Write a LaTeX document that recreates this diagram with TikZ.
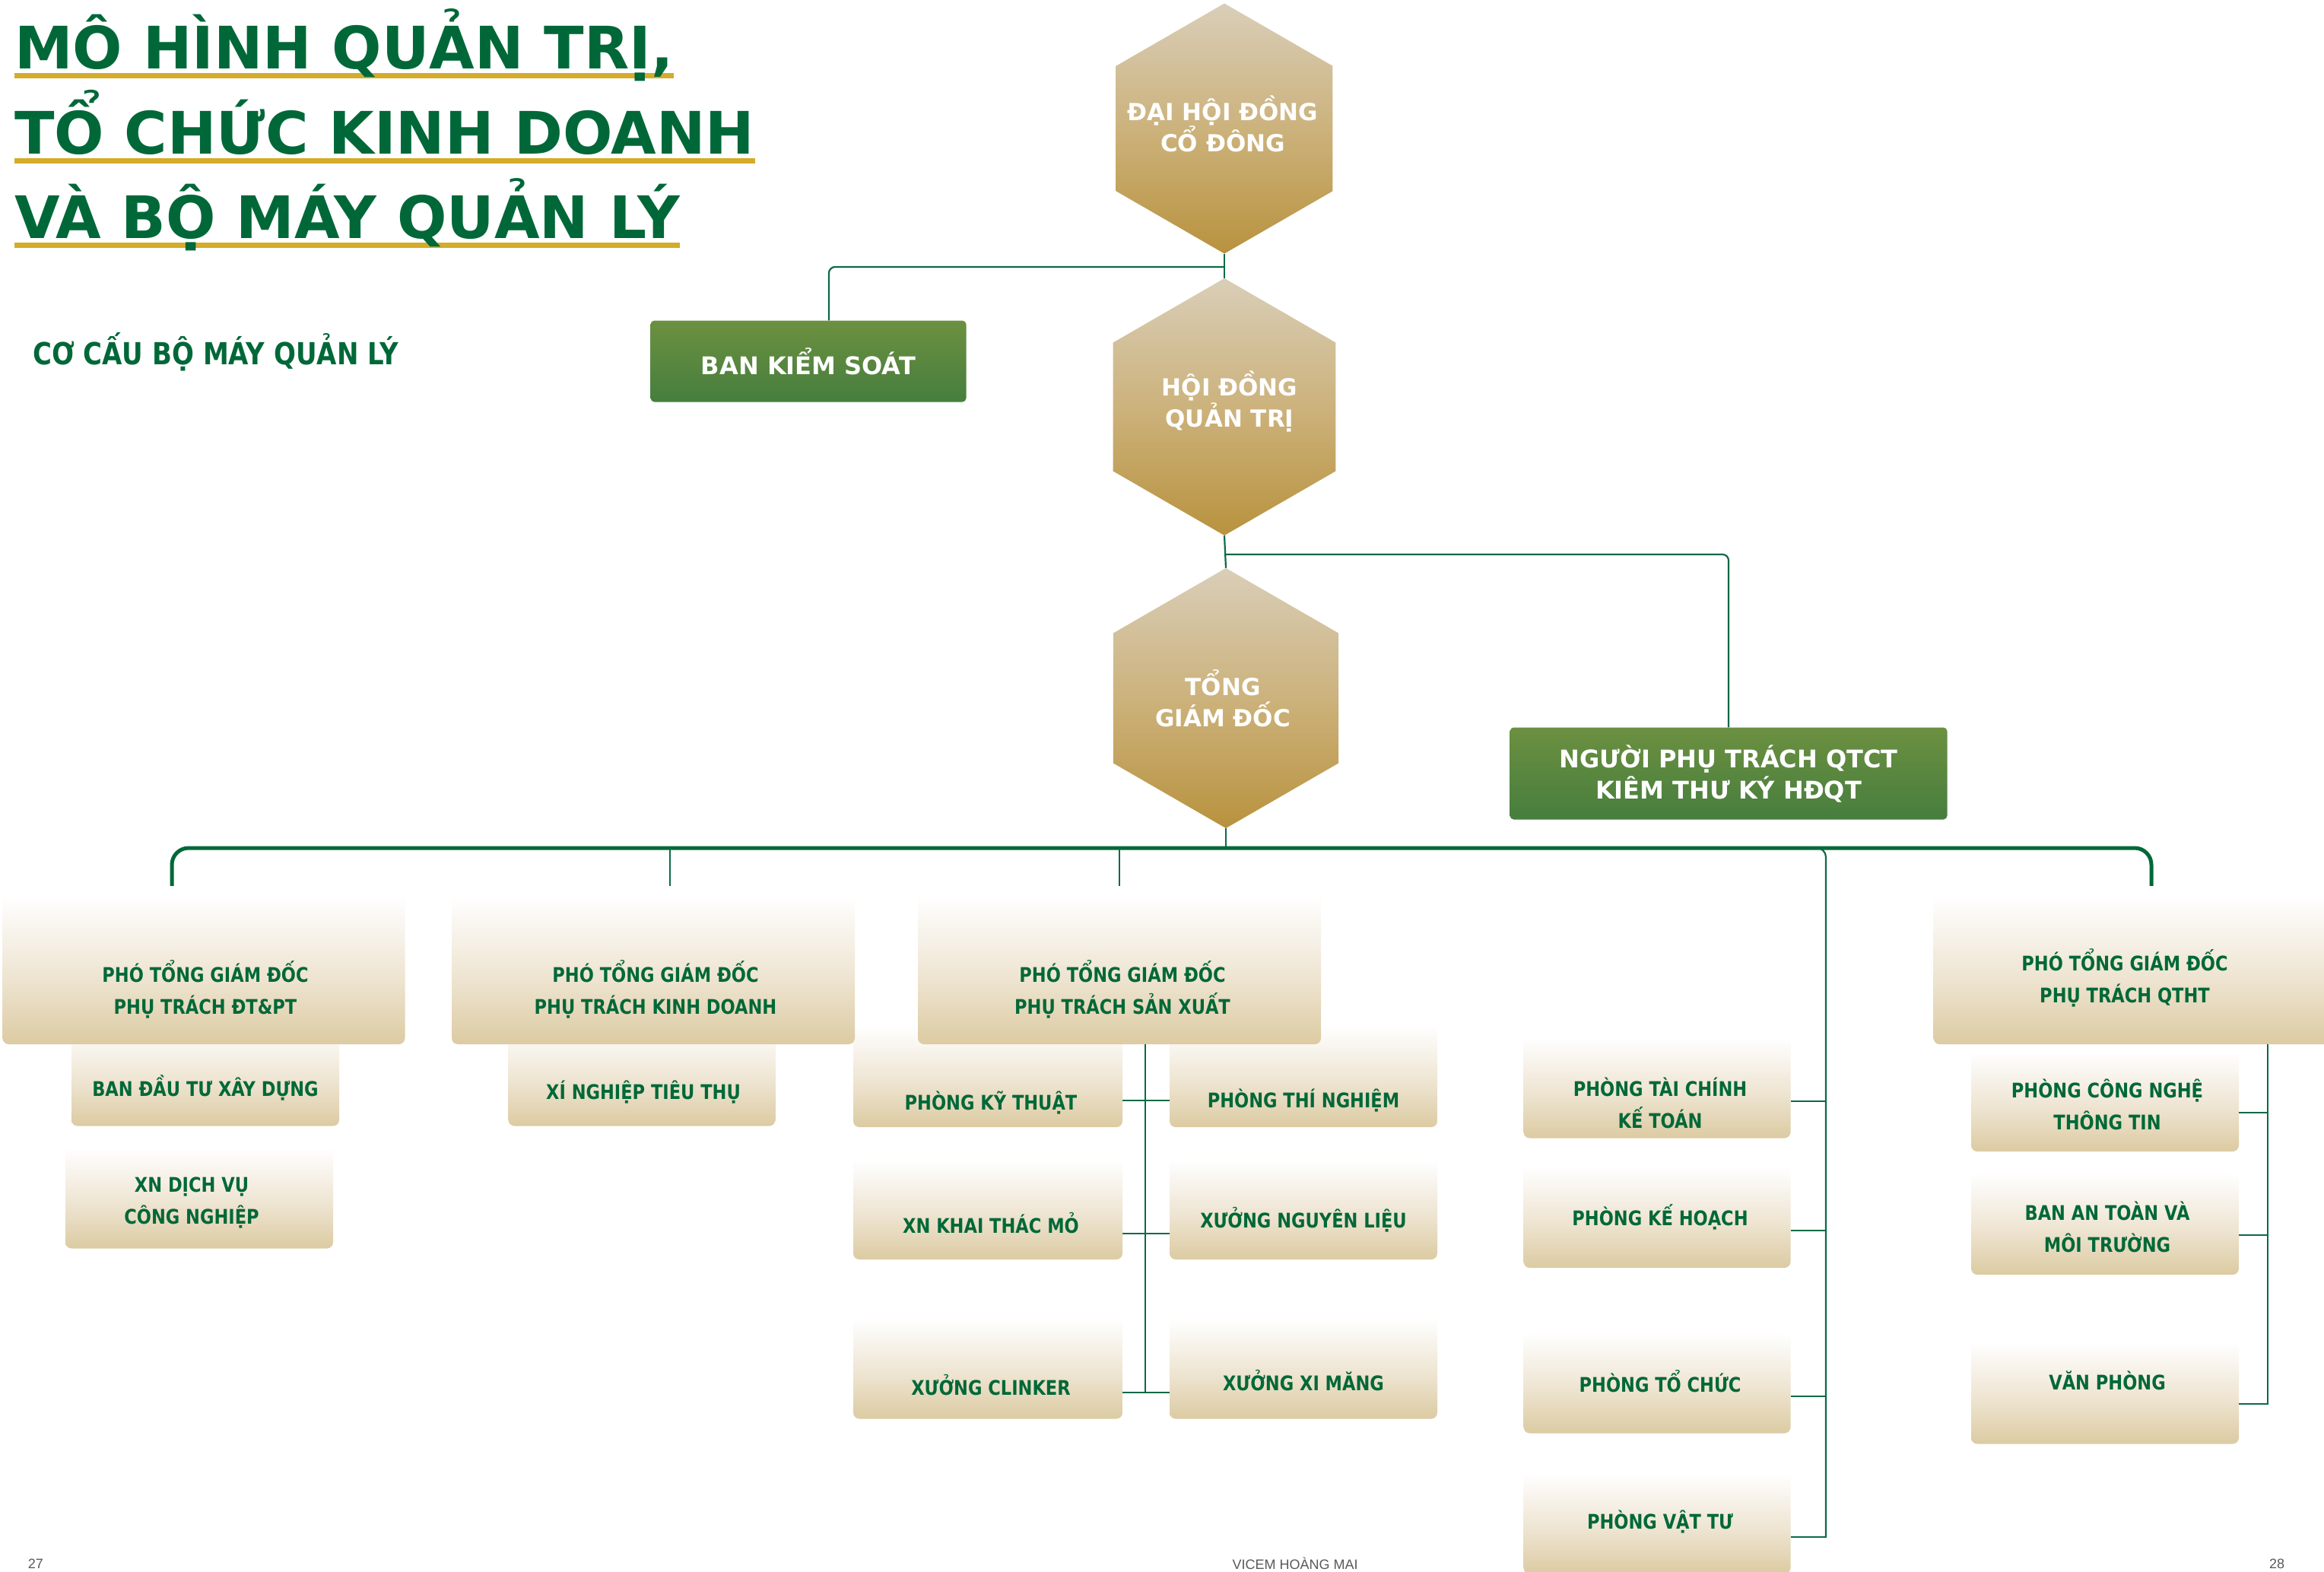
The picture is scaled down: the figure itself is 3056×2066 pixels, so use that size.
\documentclass[tikz,border=0pt]{standalone}
\usepackage{fontspec}
\usepackage{xcolor}
\usepackage{tikz}
\usetikzlibrary{shapes.geometric}
\setmainfont{DejaVu Sans}
\newfontfamily\narrowfont[FakeStretch=0.85]{DejaVu Sans}
\newfontfamily\footfont{Liberation Sans}

\definecolor{vgreen}{RGB}{0,104,56}
\definecolor{gold}{RGB}{212,172,42}
\definecolor{wire}{RGB}{12,106,70}
\definecolor{hextop}{RGB}{217,206,184}
\definecolor{hexmid}{RGB}{204,178,124}
\definecolor{hexbot}{RGB}{184,146,62}
\definecolor{boxtop}{RGB}{108,144,64}
\definecolor{boxbot}{RGB}{70,126,62}
\definecolor{creamlow}{RGB}{220,203,162}
\definecolor{creammid}{RGB}{237,227,207}
\definecolor{creamhi}{RGB}{250,247,242}
\pgfdeclareverticalshading{cream}{100bp}{color(0bp)=(creamlow); color(25bp)=(creamlow); color(45bp)=(creammid); color(64bp)=(creamhi); color(72bp)=(white); color(100bp)=(white)}
\pgfdeclarelayer{bg}
\pgfsetlayers{bg,main}

\begin{document}
\begin{tikzpicture}[x=1pt, y=-1pt,
  hexa/.style = {regular polygon, regular polygon sides=6, shape border rotate=30, inner sep=0pt,
    top color=hextop, bottom color=hexbot, middle color=hexmid},
  hextext/.style = {text=white, align=center, inner sep=0pt, font=\bfseries\fontsize{31}{41}\selectfont},
  gbox/.style = {rectangle, rounded corners=5, top color=boxtop, bottom color=boxbot, text=white,
    align=center, font=\bfseries\fontsize{32}{41}\selectfont},
  cbox/.style = {rectangle, rounded corners=8, shading=cream, inner sep=0pt},
  ctext/.style = {text=vgreen, align=center, inner sep=0pt, font=\narrowfont\bfseries\fontsize{26.5}{42}\selectfont},
  conn/.style = {draw=wire, line width=2.2pt},
  bus/.style = {draw=vgreen, line width=5pt},
  title/.style = {anchor=base west, inner sep=0pt, text=vgreen, font=\bfseries\fontsize{77}{90}\selectfont},
  foot/.style = {text=black!65, inner sep=0pt, font=\footfont\fontsize{18}{20}\selectfont}]

\useasboundingbox (0,0) rectangle (3056,2066);

% title
\node[title] (t1) at (19,90) {MÔ HÌNH QUẢN TRỊ,};
\node[title] (t2) at (19,202) {TỔ CHỨC KINH DOANH};
\node[title] (t3) at (19,313) {VÀ BỘ MÁY QUẢN LÝ};
\begin{pgfonlayer}{bg}
  \fill[white] (0,0) rectangle (3056,2066);
  \foreach \t in {t1,t2,t3}
    \fill[gold] ([yshift=-6]\t.base west) rectangle ([yshift=-13]\t.base east);
\end{pgfonlayer}
\node[anchor=base west, inner sep=0pt, text=vgreen, font=\narrowfont\bfseries\fontsize{40}{48}\selectfont] (cocau) at (43,479) {CƠ CẤU BỘ MÁY QUẢN LÝ};

% top of the chart
\node[hexa, minimum size=329] (dhcd) at (1610,169) {};
\node[hexa, minimum size=338] (hdqt) at (1610,535) {};
\node[hexa, minimum size=342] (tgd) at (1612,918) {};
\node[hextext] (dhcdl) at (1608,163) {ĐẠI HỘI ĐỒNG\\CỔ ĐÔNG};
\node[hextext] (hdqtl) at (1617,528) {HỘI ĐỒNG\\QUẢN TRỊ};
\node[hextext] (tgdl) at (1608,918) {TỔNG\\GIÁM ĐỐC};
\node[gbox, minimum width=415, minimum height=107] (bks) at (1063,475) {BAN KIỂM SOÁT};
\node[gbox, minimum width=575, minimum height=121] (npt) at (2273,1017) {NGƯỜI PHỤ TRÁCH QTCT\\KIÊM THƯ KÝ HĐQT};

% units
\node[cbox, minimum width=352, minimum height=141] (bdtxd) at (270,1410) {};
\node[cbox, minimum width=351, minimum height=141] (xntt) at (844,1410) {};
\node[cbox, minimum width=352, minimum height=141] (xndv) at (262,1571) {};
\node[cbox, minimum width=354, minimum height=142] (pkt) at (1299,1411) {};
\node[cbox, minimum width=352, minimum height=142] (ptn) at (1714,1411) {};
\node[cbox, minimum width=354, minimum height=140] (ktm) at (1299,1586) {};
\node[cbox, minimum width=352, minimum height=140] (nl) at (1714,1586) {};
\node[cbox, minimum width=354, minimum height=141] (clk) at (1299,1795) {};
\node[cbox, minimum width=352, minimum height=141] (xm) at (1714,1795) {};
\node[cbox, minimum width=351, minimum height=141] (tckt) at (2179,1426) {};
\node[cbox, minimum width=351, minimum height=142] (kh) at (2179,1596) {};
\node[cbox, minimum width=351, minimum height=141] (tc) at (2179,1814) {};
\node[cbox, minimum width=351, minimum height=141] (vt) at (2179,1999) {};
\node[cbox, minimum width=352, minimum height=140] (cntt) at (2768,1444) {};
\node[cbox, minimum width=352, minimum height=142] (batmt) at (2768,1605) {};
\node[cbox, minimum width=352, minimum height=143] (vp) at (2768,1827) {};

\node[cbox, minimum width=529, minimum height=208] (ptdt) at (268,1269) {};
\node[cbox, minimum width=530, minimum height=208] (ptkd) at (859,1269) {};
\node[cbox, minimum width=530, minimum height=208] (ptsx) at (1472,1269) {};
\node[cbox, minimum width=529, minimum height=208] (ptqt) at (2807,1269) {};

\node[ctext] (ptdtl) at (270,1301) {PHÓ TỔNG GIÁM ĐỐC\\PHỤ TRÁCH ĐT\&PT};
\node[ctext] (ptkdl) at (862,1301) {PHÓ TỔNG GIÁM ĐỐC\\PHỤ TRÁCH KINH DOANH};
\node[ctext] (ptsxl) at (1476,1301) {PHÓ TỔNG GIÁM ĐỐC\\PHỤ TRÁCH SẢN XUẤT};
\node[ctext] (ptqtl) at (2794,1286) {PHÓ TỔNG GIÁM ĐỐC\\PHỤ TRÁCH QTHT};
\node[ctext] (bdtxdl) at (270,1430) {BAN ĐẦU TƯ XÂY DỰNG};
\node[ctext] (xnttl) at (846,1436) {XÍ NGHIỆP TIÊU THỤ};
\node[ctext] (xndvl) at (252,1581) {XN DỊCH VỤ\\CÔNG NGHIỆP};
\node[ctext] (pktl) at (1303,1450) {PHÒNG KỸ THUẬT};
\node[ctext] (ptnl) at (1714,1447) {PHÒNG THÍ NGHIỆM};
\node[ctext] (ktml) at (1303,1608) {XN KHAI THÁC MỎ};
\node[ctext] (nll) at (1714,1604) {XƯỞNG NGUYÊN LIỆU};
\node[ctext] (clkl) at (1303,1821) {XƯỞNG CLINKER};
\node[ctext] (xml) at (1714,1815) {XƯỞNG XI MĂNG};
\node[ctext] (tcktl) at (2183,1450) {PHÒNG TÀI CHÍNH\\KẾ TOÁN};
\node[ctext] (khl) at (2183,1600) {PHÒNG KẾ HOẠCH};
\node[ctext] (tcl) at (2183,1816) {PHÒNG TỔ CHỨC};
\node[ctext] (vtl) at (2183,2001) {PHÒNG VẬT TƯ};
\node[ctext] (cnttl) at (2771,1452) {PHÒNG CÔNG NGHỆ\\THÔNG TIN};
\node[ctext] (batmtl) at (2771,1613) {BAN AN TOÀN VÀ\\MÔI TRƯỜNG};
\node[ctext] (vpl) at (2771,1815) {VĂN PHÒNG};

% connectors
\draw[conn] (dhcd.south) -- (hdqt.north);
\draw[conn, rounded corners=8] (dhcd.south |- 0,351) -| ([xshift=27]bks.north);
\draw[conn] (hdqt.south) -- (tgd.north);
\draw[conn, rounded corners=8] (hdqt.south |- 0,729) -| (npt.north);
\coordinate (bus) at (1612,1115);
\draw[conn] (tgd.south) -- (bus);
\draw[bus, rounded corners=22] ([xshift=-42]ptdt.north) |- (bus) -| ([xshift=22]ptqt.north);
\coordinate (kdtop) at ([xshift=22]ptkd.north);
\draw[conn] (kdtop) -- (kdtop |- bus);
\draw[conn] (ptsx.north) -- (ptsx.north |- bus);

\draw[conn] (ptsx.south -| 1506,0) -- ++(0,459);
\foreach \l/\r in {pkt/ptn,ktm/nl,clk/xm}
  \draw[conn] ([yshift=-36]\l.east) -- ([yshift=-36]\r.west);

\coordinate (vtj) at ([yshift=-22]vt.east);
\draw[conn, rounded corners=12] (bus -| 2385,0) -| (vtj -| 2401,0);
\foreach \b in {tckt,kh,tc,vt}
  \draw[conn] ([yshift=-22]\b.east) -- ++(47,0);

\draw[conn] (ptqt.south -| 2982,0) -- ++(0,474);
\foreach \b in {cntt,batmt,vp}
  \draw[conn] ([yshift=-19]\b.east) -- ++(38,0);

% page footer
\node[foot] (pg27) at (47,2056) {27};
\node[foot] (vicem) at (1703,2056) {VICEM HOÀNG MAI};
\node[foot] (pg28) at (2994,2056) {28};
\end{tikzpicture}
\end{document}
